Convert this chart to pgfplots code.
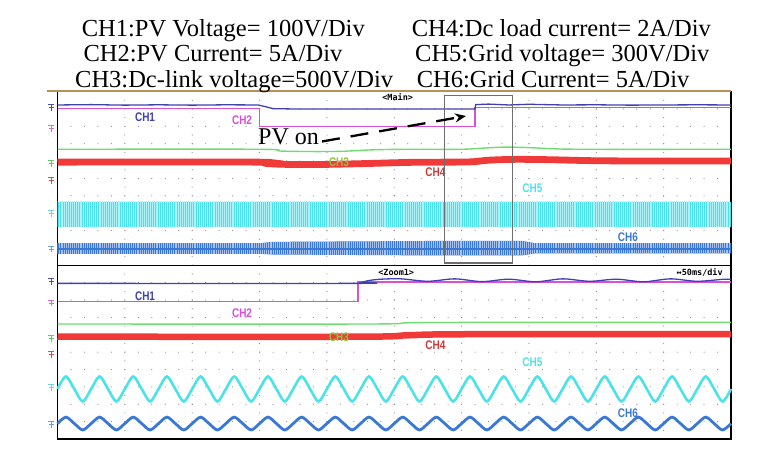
\documentclass[border=0pt]{standalone}
\usepackage{fontspec}
\setmainfont{Liberation Serif}
\newfontfamily\chfont{Liberation Sans}
\newfontfamily\scopefont{DejaVu Sans Mono}
\usepackage{pgfplots}
\pgfplotsset{compat=1.18}
\usepackage{pgfplotstable}
\usetikzlibrary{arrows.meta,patterns.meta}

\definecolor{ch1col}{HTML}{4040B0}
\definecolor{ch2col}{HTML}{D84FD8}
\definecolor{ch3col}{HTML}{6EDC6E}
\definecolor{ch3txt}{HTML}{8CC43C}
\definecolor{ch4col}{HTML}{F03A3A}
\definecolor{ch4txt}{HTML}{D03838}
\definecolor{ch5col}{HTML}{4CE2EA}
\definecolor{ch5band}{HTML}{4CE0EA}
\definecolor{ch6col}{HTML}{3A78D6}
\definecolor{ch6band}{HTML}{3A78D6}
\definecolor{gridgray}{HTML}{8C8C8C}
\definecolor{gold}{HTML}{B8915A}
\definecolor{boxgray}{HTML}{6E6E6E}
\definecolor{mk1}{HTML}{5050B0}
\definecolor{mk2}{HTML}{D070D0}
\definecolor{mk3}{HTML}{60CC60}
\definecolor{mk4}{HTML}{C05858}
\definecolor{mk5}{HTML}{70D4E4}
\definecolor{mk6}{HTML}{6E9ED8}

% channel ground marker
\pgfdeclareplotmark{gnd}{%
  \pgfpathmoveto{\pgfqpoint{-3pt}{3pt}}\pgfpathlineto{\pgfqpoint{3pt}{3pt}}%
  \pgfpathmoveto{\pgfqpoint{0pt}{3pt}}\pgfpathlineto{\pgfqpoint{0pt}{-3.5pt}}%
  \pgfpathmoveto{\pgfqpoint{-2.5pt}{0pt}}\pgfpathlineto{\pgfqpoint{2.5pt}{0pt}}%
  \pgfusepathqstroke}

% zoom window: 50 ms/div, two cycles per div
\pgfplotstableread{
x c5 c6
0 2.88 0.89
0.125 3.60 1.26
0.25 2.88 0.89
0.375 2.16 0.52
0.5 2.88 0.89
0.625 3.60 1.26
0.75 2.88 0.89
0.875 2.16 0.52
1 2.88 0.89
1.125 3.60 1.26
1.25 2.88 0.89
1.375 2.16 0.52
1.5 2.88 0.89
1.625 3.60 1.26
1.75 2.88 0.89
1.875 2.16 0.52
2 2.88 0.89
2.125 3.60 1.26
2.25 2.88 0.89
2.375 2.16 0.52
2.5 2.88 0.89
2.625 3.60 1.26
2.75 2.88 0.89
2.875 2.16 0.52
3 2.88 0.89
3.125 3.60 1.26
3.25 2.88 0.89
3.375 2.16 0.52
3.5 2.88 0.89
3.625 3.60 1.26
3.75 2.88 0.89
3.875 2.16 0.52
4 2.88 0.89
4.125 3.60 1.26
4.25 2.88 0.89
4.375 2.16 0.52
4.5 2.88 0.89
4.625 3.60 1.26
4.75 2.88 0.89
4.875 2.16 0.52
5 2.88 0.89
5.125 3.60 1.26
5.25 2.88 0.89
5.375 2.16 0.52
5.5 2.88 0.89
5.625 3.60 1.26
5.75 2.88 0.89
5.875 2.16 0.52
6 2.88 0.89
6.125 3.60 1.26
6.25 2.88 0.89
6.375 2.16 0.52
6.5 2.88 0.89
6.625 3.60 1.26
6.75 2.88 0.89
6.875 2.16 0.52
7 2.88 0.89
7.125 3.60 1.26
7.25 2.88 0.89
7.375 2.16 0.52
7.5 2.88 0.89
7.625 3.60 1.26
7.75 2.88 0.89
7.875 2.16 0.52
8 2.88 0.89
8.125 3.60 1.26
8.25 2.88 0.89
8.375 2.16 0.52
8.5 2.88 0.89
8.625 3.60 1.26
8.75 2.88 0.89
8.875 2.16 0.52
9 2.88 0.89
9.125 3.60 1.26
9.25 2.88 0.89
9.375 2.16 0.52
9.5 2.88 0.89
9.625 3.60 1.26
9.75 2.88 0.89
9.875 2.16 0.52
10 2.88 0.89
}\wavedata

\pgfplotsset{
  scope axis/.style={
    anchor=south west, width=673.5pt, height=173.7pt, scale only axis,
    xmin=0, xmax=10, ymin=0, ymax=10,
    xtick={1,...,9}, ytick={1,...,9}, xticklabels={}, yticklabels={},
    major tick length=0pt, tick style={draw=none},
    grid=major,
    major x grid style={gridgray, line width=1.2pt, line cap=round, dash pattern=on 0pt off 8.685pt},
    major y grid style={gridgray, line width=1.2pt, line cap=round, dash pattern=on 0pt off 13.47pt},
    axis line style={black, line width=1.3pt},
    clip=false,
  },
  gndmark/.style={only marks, mark=gnd, mark options={line width=0.9pt}, color=#1},
  band/.style={draw=none, fill=#1,
    postaction={pattern={Lines[angle=90, distance=1.9pt, line width=0.45pt]}, pattern color=white!55!#1}},
}
\tikzset{
  chlabel/.style={font=\chfont\bfseries\fontsize{12.5}{12.5}\selectfont, inner sep=0pt},
  scopelabel/.style={font=\scopefont\bfseries\fontsize{8.5}{9}\selectfont, inner sep=0pt},
  title/.style={font=\fontsize{24.5}{26}\selectfont, inner sep=0pt, anchor=base west},
}
\newcommand{\ch}[1]{\scalebox{0.8}[1]{#1}}

\begin{document}
\begin{tikzpicture}
\useasboundingbox (0,0) rectangle (762pt,455pt);

% main window
\begin{axis}[scope axis, at={(57.5pt,189.7pt)}]
\addplot[band=ch6band] coordinates {
(0,1.27) (3.0,1.27) (3.2,1.35) (5.5,1.40) (6.9,1.40) (7.1,1.27) (10,1.27)
(10,0.69) (7.1,0.69) (6.9,0.57) (5.5,0.57) (3.2,0.62) (3.0,0.66) (0,0.66)
} -- cycle;
\addplot[ch6col, line width=2.2pt] coordinates {(0,0.96) (10,0.96)};
\addplot[band=ch5band] coordinates {
(0,3.66) (10,3.66) (10,2.22) (0,2.22)
} -- cycle;
\addplot[ch4col, line width=6.8pt, smooth] coordinates {
(0,5.94) (2.95,5.94) (3.1,5.86) (3.4,5.81) (4.0,5.81) (4.6,5.86) (5.3,5.93)
(6.1,5.95) (6.4,6.05) (6.8,6.10) (7.3,6.08) (8.0,6.02) (9,6.0) (10,6.0)
};
\addplot[ch3col, line width=1.4pt, smooth] coordinates {
(0,6.68) (3.0,6.68) (3.3,6.58) (3.7,6.55) (4.2,6.56) (4.7,6.65) (5.2,6.68)
(6.0,6.68) (6.3,6.74) (6.6,6.80) (6.9,6.79) (7.3,6.72) (7.8,6.68) (10,6.68)
};
\addplot[ch2col, line width=1.4pt] coordinates {
(0,9.04) (3.0,9.04) (3.0,7.98) (6.2,7.98) (6.2,9.10) (10,9.10)
};
\addplot[ch1col, line width=1.3pt] coordinates {
(0,9.23) (0.5,9.25) (1,9.22) (1.5,9.24) (2,9.22) (2.5,9.24) (2.98,9.23)
(3.1,9.12) (3.2,9.02) (3.5,9.0) (4,9.0) (5,9.0) (6.2,9.0) (6.21,9.25)
(6.4,9.28) (6.7,9.23) (7,9.27) (7.5,9.23) (8,9.24) (8.5,9.22) (9,9.23)
(9.5,9.24) (10,9.23)
};
\addplot[gndmark=mk1] coordinates {(-0.09,9.07)};
\addplot[gndmark=mk2] coordinates {(-0.09,7.89)};
\addplot[gndmark=mk3] coordinates {(-0.09,5.87)};
\addplot[gndmark=mk4] coordinates {(-0.09,4.91)};
\addplot[gndmark=mk5] coordinates {(-0.09,2.99)};
\addplot[gndmark=mk6] coordinates {(-0.09,0.94)};
\node[chlabel, text=ch1col] at (axis cs:1.30,8.54) {\ch{CH1}};
\node[chlabel, text=ch2col] at (axis cs:2.74,8.36) {\ch{CH2}};
\node[chlabel, text=ch3txt] at (axis cs:4.18,5.92) {\ch{CH3}};
\node[chlabel, text=ch4txt] at (axis cs:5.61,5.37) {\ch{CH4}};
\node[chlabel, text=ch5col] at (axis cs:7.05,4.45) {\ch{CH5}};
\node[chlabel, text=ch6col] at (axis cs:8.47,1.63) {\ch{CH6}};
\node[scopelabel, anchor=west] at (axis cs:4.82,9.69) {<Main>};
\draw[boxgray, line width=1.1pt] (axis cs:5.74,9.80) rectangle (axis cs:6.75,0.13);
\end{axis}

% zoom window
\begin{axis}[scope axis, at={(57.5pt,16pt)}]
\addplot[ch6col, line width=2.8pt, smooth] table[x=x, y=c6] {\wavedata};
\addplot[ch5col, line width=2.6pt, smooth] table[x=x, y=c5] {\wavedata};
\addplot[ch4col, line width=6.5pt, smooth] coordinates {
(0,5.89) (4.5,5.89) (5.2,5.97) (6,6.03) (10,6.04)
};
\addplot[ch3col, line width=1.4pt, smooth] coordinates {
(0,6.62) (4.6,6.62) (5.2,6.69) (6,6.71) (10,6.71)
};
\addplot[ch2col, line width=1.4pt] coordinates {
(0,7.90) (4.46,7.90) (4.46,9.04) (10,9.04)
};
\addplot[ch1col, line width=1.3pt, smooth] coordinates {
(0,8.96) (4.46,8.96) (4.52,9.02) (4.62,9.12) (4.8,9.2) (5.1,9.22) (5.5,9.08)
(5.9,9.22) (6.3,9.06) (6.7,9.2) (7.1,9.05) (7.5,9.22) (7.9,9.08) (8.3,9.2)
(8.7,9.05) (9.1,9.22) (9.5,9.08) (9.9,9.2) (10,9.18)
};
\addplot[gndmark=mk1] coordinates {(-0.09,9.06)};
\addplot[gndmark=mk2] coordinates {(-0.09,7.83)};
\addplot[gndmark=mk3] coordinates {(-0.09,5.81)};
\addplot[gndmark=mk4] coordinates {(-0.09,4.84)};
\addplot[gndmark=mk5] coordinates {(-0.09,2.94)};
\addplot[gndmark=mk6] coordinates {(-0.09,0.86)};
\node[chlabel, text=ch1col] at (axis cs:1.30,8.23) {\ch{CH1}};
\node[chlabel, text=ch2col] at (axis cs:2.74,7.25) {\ch{CH2}};
\node[chlabel, text=ch3txt] at (axis cs:4.18,5.87) {\ch{CH3}};
\node[chlabel, text=ch4txt] at (axis cs:5.61,5.41) {\ch{CH4}};
\node[chlabel, text=ch5col] at (axis cs:7.05,4.43) {\ch{CH5}};
\node[chlabel, text=ch6col] at (axis cs:8.47,1.50) {\ch{CH6}};
\node[scopelabel, anchor=west] at (axis cs:4.76,9.59) {<Zoom1>};
\node[scopelabel, anchor=east] at (axis cs:9.88,9.59) {↔50ms/div};
\end{axis}

% golden top rule
\draw[gold, line width=2.2pt] (47pt,364.3pt) -- (731pt,364.3pt);

% titles
\node[title] at (81.7pt,418.3pt) {CH1:PV Voltage= 100V/Div};
\node[title] at (83.3pt,393.3pt) {CH2:PV Current= 5A/Div};
\node[title] at (75pt,367.9pt) {CH3:Dc-link voltage=500V/Div};
\node[title] at (411.7pt,418.3pt) {CH4:Dc load current= 2A/Div};
\node[title] at (415pt,393.3pt) {CH5:Grid voltage= 300V/Div};
\node[title] at (416.7pt,367.9pt) {CH6:Grid Current= 5A/Div};

% annotation
\node[font=\fontsize{24}{25}\selectfont, inner sep=0pt, anchor=base west] at (258pt,310pt) {PV on};
\draw[-{Stealth[length=11pt,width=9pt]}, line width=2.3pt, dash pattern=on 18pt off 11pt]
  (322pt,313.5pt) -- (466pt,339pt);
\end{tikzpicture}
\end{document}
